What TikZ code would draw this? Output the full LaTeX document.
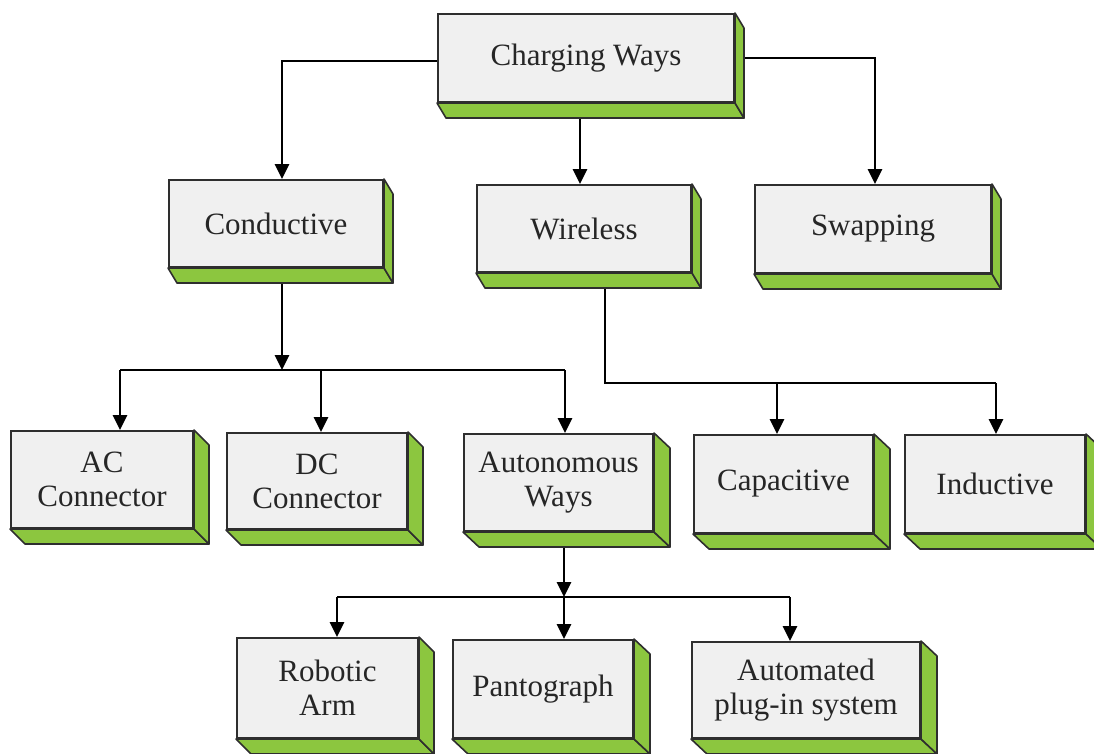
\documentclass[tikz,border=0pt]{standalone}
\usepackage{fontspec}
\setmainfont{Liberation Serif}
\usetikzlibrary{arrows.meta,backgrounds}
\definecolor{facegray}{HTML}{F0F0F0}
\definecolor{sidegreen}{HTML}{8CC63F}
\definecolor{edgegray}{HTML}{2E2E2E}
\tikzset{
  box/.style={draw=edgegray, line width=2pt, fill=facegray, inner sep=0pt,
    align=center, text=black!85, font=\fontsize{31}{34}\selectfont},
  side/.style={draw=edgegray, line width=1.6pt, fill=sidegreen, line join=round},
  link/.style={draw=black, line width=2.8pt},
  arr/.style={link, -{Triangle[length=15pt,width=14pt]}},
}
\begin{document}
\begin{tikzpicture}[x=1pt,y=-1pt]
\useasboundingbox (0,0) rectangle (1094,753);

% boxes (front faces)
\node[box, minimum width=296pt, minimum height=88pt] (cw) at (586,58) {Charging Ways};
\node[box, minimum width=214pt, minimum height=87pt] (cond) at (276,223.5) {Conductive};
\node[box, minimum width=214pt, minimum height=87pt] (wire) at (584,228.5) {Wireless};
\node[box, minimum width=236pt, minimum height=88pt] (swap) at (873,229) {Swapping};
\node[box, minimum width=182pt, minimum height=97pt] (ac) at (102,479.5) {AC\\Connector};
\node[box, minimum width=180pt, minimum height=96pt] (dc) at (317,481) {DC\\Connector};
\node[box, minimum width=189pt, minimum height=97pt] (auto) at (558.5,482.5) {Autonomous\\Ways};
\node[box, minimum width=179pt, minimum height=98pt] (cap) at (783.5,484) {Capacitive};
\node[box, minimum width=180pt, minimum height=98pt] (ind) at (995,484) {Inductive};
\node[box, minimum width=181pt, minimum height=100pt] (rob) at (327.5,688) {Robotic\\Arm};
\node[box, minimum width=180pt, minimum height=98pt] (pant) at (543,689) {Pantograph};
\node[box, minimum width=228pt, minimum height=96pt] (autop) at (806,690) {Automated\\plug-in system};

% extruded green sides (bottom and right)
\foreach \n/\dx in {cw/9, cond/9, wire/9, swap/9, ac/15, dc/15, auto/16, cap/16, ind/16, rob/15, pant/16, autop/16} {
  \filldraw[side] (\n.south west) -- (\n.south east) -- ([shift={(\dx,15)}]\n.south east)
    -- ([shift={(\dx,15)}]\n.south west) -- cycle;
  \filldraw[side] (\n.north east) -- ([shift={(\dx,15)}]\n.north east)
    -- ([shift={(\dx,15)}]\n.south east) -- (\n.south east) -- cycle;
}

% junction points of the buses
\coordinate (cJ) at (282,370);
\coordinate (cL) at (120,370);
\coordinate (cM) at (321,370);
\coordinate (cR) at (565,370);
\coordinate (wJ) at (605,383);
\coordinate (wM) at (777,383);
\coordinate (wR) at (996,383);
\coordinate (aJ) at (564,597);
\coordinate (aL) at (337,597);
\coordinate (aR) at (790,597);

\begin{scope}[on background layer]
  % first level
  \draw[arr] ([yshift=-3pt]cw.west) -| ([xshift=6pt]cond.north);
  \draw[arr] (cw.east) -| ([xshift=2pt]swap.north);
  \draw[arr] ([xshift=-6pt]cw.south) -- ([xshift=-4pt]wire.north);
  % conductive branch
  \draw[arr] ([xshift=6pt]cond.south) -- (cJ);
  \draw[link] (cL) -- (cR);
  \draw[arr] (cL) -- (cL |- ac.north);
  \draw[arr] (cM) -- (cM |- dc.north);
  \draw[arr] (cR) -- (cR |- auto.north);
  % wireless branch
  \draw[link] ([xshift=21pt]wire.south) -- (wJ) -- (wR);
  \draw[arr] (wM) -- (wM |- cap.north);
  \draw[arr] (wR) -- (wR |- ind.north);
  % autonomous branch
  \draw[arr] ([xshift=5.5pt]auto.south) -- (aJ);
  \draw[link] (aL) -- (aR);
  \draw[arr] (aL) -- (aL |- rob.north);
  \draw[arr] (aJ) -- (aJ |- pant.north);
  \draw[arr] (aR) -- (aR |- autop.north);
\end{scope}
\end{tikzpicture}
\end{document}
